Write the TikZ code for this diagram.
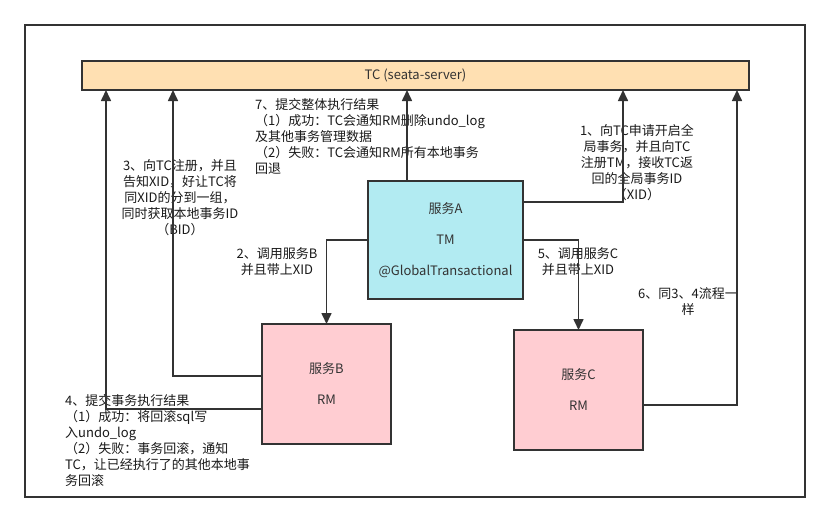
\documentclass[tikz,border=0pt]{standalone}
\usepackage{fontspec}
\setmainfont{Noto Sans CJK SC}
\usetikzlibrary{arrows.meta}
\definecolor{tcfill}{HTML}{FFE0B2}
\definecolor{tmfill}{HTML}{B2EBF2}
\definecolor{rmfill}{HTML}{FFCDD2}
\definecolor{ink}{HTML}{333333}
\tikzset{
  box/.style={draw=ink, line width=1.6pt, inner sep=0pt, outer sep=0pt, align=center,
    text=ink, font=\fontsize{13}{31}\selectfont},
  lbl/.style={inner sep=0pt, font=\fontsize{13}{16}\selectfont, text=black!90},
  flow/.style={draw=ink, line width=1.6pt, -{Triangle[length=11pt,width=10pt]}}
}
\begin{document}
\begin{tikzpicture}[x=1pt,y=-1pt]
  \useasboundingbox (0,0) rectangle (830,523);
  \draw[ink, line width=1.6pt] (25,25) rectangle (805,497);
  \node[box, fill=tcfill, minimum width=667pt, minimum height=29pt] (tc) at (415.5,75.5) {TC (seata-server)};
  \node[box, fill=tmfill, minimum width=155pt, minimum height=118pt] (a) at (445.5,240) {服务A\\TM\\@GlobalTransactional};
  \node[box, fill=rmfill, minimum width=129pt, minimum height=120pt] (b) at (326.5,384) {服务B\\RM};
  \node[box, fill=rmfill, minimum width=129pt, minimum height=120pt] (c) at (578.5,390) {服务C\\RM};
  \coordinate (t4) at (106,90);
  \coordinate (t3) at (173,90);
  \coordinate (t1) at (623,90);
  \coordinate (t6) at (737,90);
  \coordinate (a7) at ([xshift=39pt]a.north west);
  \node[lbl, align=center] (l1) at (637,163) {1、向TC申请开启全\\局事务，并且向TC\\注册TM，接收TC返\\回的全局事务ID\\（XID）};
  \node[lbl, align=center] (l2) at (277,262) {2、调用服务B\\并且带上XID};
  \node[lbl, align=center] (l3) at (180,198) {3、向TC注册，并且\\告知XID，好让TC将\\同XID的分到一组，\\同时获取本地事务ID\\（BID）};
  \node[lbl, align=left, anchor=west] (l4) at (65,440.5) {4、提交事务执行结果\\（1）成功：将回滚sql写\\入undo\_log\\（2）失败：事务回滚，通知\\TC，让已经执行了的其他本地事\\务回滚};
  \node[lbl, align=center] (l5) at (578,262) {5、调用服务C\\并且带上XID};
  \node[lbl, align=center] (l6) at (688,302) {6、同3、4流程一\\样};
  \node[lbl, align=left, anchor=west] (l7) at (255,136) {7、提交整体执行结果\\（1）成功：TC会通知RM删除undo\_log\\及其他事务管理数据\\（2）失败：TC会通知RM所有本地事务\\回退};
  \begin{scope}[flow]
    \draw ([yshift=-21pt]a.north east) -| (t1);
    \draw (a.west) -| (b.north);
    \draw ([yshift=-52pt]b.north west) -| (t3);
    \draw ([yshift=-85pt]b.north west) -| (t4);
    \draw (a.east) -| (c.north);
    \draw ([yshift=-75pt]c.north east) -| (t6);
    \draw (a7) -- (a7 |- tc.south);
  \end{scope}
\end{tikzpicture}
\end{document}
